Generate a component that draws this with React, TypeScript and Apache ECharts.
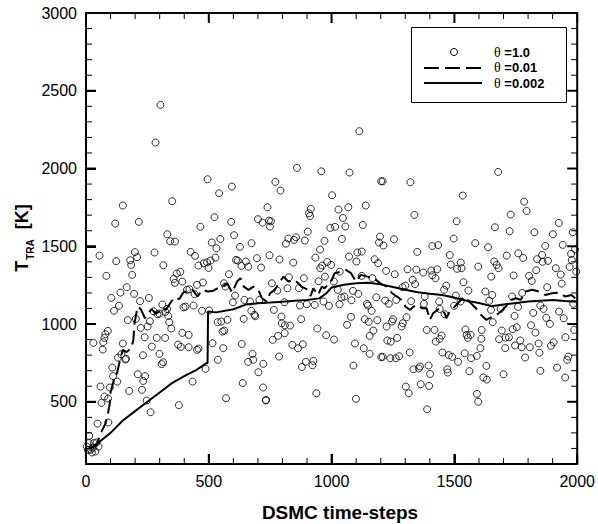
import React, { useEffect, useRef } from "react";
import * as echarts from "echarts";

const FONT = '"Liberation Sans", Arial, Helvetica, sans-serif';

const X_MIN = 0;
const X_MAX = 2000;
const Y_MIN = 100;
const Y_MAX = 3000;

const xMajorTicks = [0, 500, 1000, 1500, 2000];
const xMinorTicks = [100, 200, 300, 400, 600, 700, 800, 900, 1100, 1200, 1300, 1400, 1600, 1700, 1800, 1900];
const yMajorValues = [500, 1000, 1500, 2000, 2500, 3000];
const yMinorValues = [200, 300, 400, 600, 700, 800, 900, 1100, 1200, 1300, 1400, 1600, 1700, 1800, 1900, 2100, 2200, 2300, 2400, 2600, 2700, 2800, 2900];

const legendLabels = ["1.0", "0.01", "0.002"];

// theta = 1.0 (scatter)
const theta1Points: [number, number][] = [
  [303, 2409], [283, 2167], [351, 1790], [150, 1762], [119, 1646], [215, 1657], [331, 1577], [343, 1532], [362, 1530], [55, 1440],
  [123, 1404], [199, 1462], [208, 1430], [180, 1410], [184, 1380], [279, 1460], [315, 1378], [83, 1310], [188, 1316], [384, 1335],
  [370, 1325], [357, 1290], [362, 1265], [392, 1273], [166, 1237], [140, 1202], [196, 1194], [103, 1168], [256, 1168], [220, 1147],
  [134, 1117], [114, 1085], [311, 1125], [275, 1082], [291, 1063], [299, 1067], [330, 1097], [323, 1078], [397, 1108], [170, 1025],
  [203, 1033], [335, 1052], [339, 1012], [347, 971], [260, 1018], [251, 984], [223, 975], [89, 956], [79, 935], [75, 911],
  [70, 883], [30, 879], [68, 836], [392, 943], [239, 915], [288, 911], [322, 911], [150, 875], [268, 855], [375, 868],
  [386, 853], [130, 784], [144, 806], [232, 799], [299, 808], [160, 772], [163, 777], [314, 754], [308, 742], [107, 720],
  [110, 665], [211, 677], [241, 665], [233, 634], [127, 630], [176, 570], [228, 577], [59, 598], [75, 534], [63, 493],
  [97, 592], [90, 521], [247, 508], [378, 478], [263, 433], [47, 360], [91, 367], [13, 281], [3, 212], [19, 191],
  [32, 234], [43, 238], [24, 174], [11, 234], [51, 212], [8, 190], [28, 205], [38, 180],
  [495, 1931], [542, 1841], [594, 1884], [771, 1914], [792, 1858], [739, 1751], [523, 1687], [466, 1625], [591, 1657], [700, 1674],
  [719, 1652], [745, 1665], [753, 1661], [749, 1627], [603, 1571], [547, 1547], [512, 1524], [531, 1487], [674, 1520], [627, 1496],
  [426, 1464], [444, 1438], [527, 1427], [747, 1442], [458, 1376], [480, 1391], [493, 1397], [507, 1408], [499, 1361], [611, 1412],
  [618, 1408], [651, 1402], [696, 1423], [788, 1415], [633, 1374], [661, 1369], [713, 1363], [582, 1320], [411, 1220], [421, 1224],
  [452, 1252], [476, 1267], [442, 1192], [562, 1262], [568, 1241], [757, 1262], [779, 1215], [405, 1112], [438, 1119], [472, 1085],
  [501, 1087], [607, 1183], [598, 1140], [645, 1155], [668, 1145], [706, 1155], [673, 1085], [686, 1059], [689, 1050], [765, 1091],
  [796, 1048], [642, 1033], [536, 1012], [551, 1016], [576, 1027], [418, 930], [418, 851], [452, 834], [458, 842], [515, 877],
  [556, 952], [563, 958], [559, 845], [634, 872], [760, 898], [782, 924], [786, 791], [678, 808], [660, 757], [681, 770],
  [722, 744], [537, 770], [702, 690], [487, 712], [434, 630], [638, 620], [721, 592], [570, 523], [732, 508], [733, 512],
  [1113, 2240], [859, 2004], [958, 1982], [1073, 1974], [1202, 1918], [1002, 1828], [915, 1740], [908, 1712], [912, 1695], [1028, 1736],
  [1068, 1751], [1139, 1762], [1046, 1682], [995, 1618], [1014, 1625], [1056, 1627], [1127, 1637], [903, 1594], [824, 1549], [855, 1558],
  [814, 1517], [847, 1541], [891, 1537], [971, 1535], [1042, 1547], [1197, 1562], [1193, 1524], [953, 1479], [934, 1427], [1071, 1434],
  [1105, 1460], [1123, 1466], [1101, 1402], [844, 1395], [1175, 1417], [1189, 1391], [962, 1376], [982, 1399], [998, 1380], [954, 1359],
  [1033, 1337], [1123, 1310], [826, 1301], [947, 1275], [973, 1305], [1009, 1273], [887, 1295], [1166, 1295], [867, 1230], [820, 1230],
  [1025, 1220], [1087, 1213], [1109, 1194], [1052, 1177], [1040, 1170], [1081, 1153], [1182, 1172], [808, 1140], [871, 1119], [899, 1127],
  [931, 1123], [967, 1145], [989, 1117], [1032, 1127], [1144, 1130], [1148, 1119], [1163, 1085], [1135, 1031], [1151, 1014], [1186, 1025],
  [1170, 958], [1155, 924], [1079, 1046], [1063, 995], [876, 1031], [942, 971], [978, 928], [1010, 900], [810, 992], [831, 990],
  [809, 941], [840, 866], [863, 844], [883, 870], [1095, 875], [1131, 844], [1155, 808], [1202, 787], [879, 724], [895, 757],
  [922, 735], [926, 763], [1089, 733], [938, 555], [1099, 519], [797, 1005],
  [1208, 1918], [1321, 1912], [1534, 1826], [1337, 1702], [1509, 1661], [1211, 1505], [1254, 1545], [1497, 1550], [1410, 1502], [1434, 1507],
  [1585, 1520], [1349, 1464], [1481, 1444], [1526, 1395], [1485, 1382], [1511, 1355], [1529, 1359], [1597, 1369], [1222, 1342], [1257, 1320],
  [1309, 1352], [1345, 1350], [1373, 1331], [1406, 1344], [1430, 1352], [1410, 1314], [1423, 1295], [1330, 1284], [1340, 1256], [1467, 1247],
  [1537, 1269], [1300, 1247], [1289, 1237], [1458, 1220], [1557, 1215], [1506, 1183], [1218, 1151], [1233, 1130], [1263, 1155], [1324, 1147],
  [1379, 1177], [1376, 1130], [1438, 1145], [1499, 1117], [1525, 1145], [1440, 1097], [1460, 1063], [1305, 1044], [1250, 1031], [1246, 1016],
  [1224, 984], [1285, 984], [1290, 1005], [1227, 894], [1241, 887], [1267, 911], [1387, 962], [1419, 962], [1424, 887], [1440, 904],
  [1448, 926], [1545, 965], [1550, 930], [1566, 930], [1555, 912], [1208, 789], [1239, 780], [1261, 780], [1275, 793], [1318, 817],
  [1451, 817], [1477, 800], [1491, 789], [1515, 757], [1542, 812], [1568, 780], [1591, 795], [1333, 709], [1355, 714], [1360, 727],
  [1395, 733], [1401, 679], [1471, 709], [1473, 688], [1561, 697], [1363, 613], [1397, 602], [1302, 598], [1314, 555], [1389, 452],
  [1592, 551], [1597, 500],
  [1678, 1978], [1784, 1787], [1794, 1727], [1729, 1704], [1665, 1622], [1925, 1650], [1725, 1597], [1826, 1590], [1901, 1577], [1982, 1590],
  [1637, 1494], [1870, 1502], [1941, 1509], [1713, 1440], [1760, 1455], [1780, 1425], [1857, 1444], [1859, 1400], [1881, 1406], [1837, 1417],
  [1991, 1479], [1975, 1451], [1978, 1412], [1662, 1402], [1672, 1380], [1680, 1359], [1650, 1305], [1741, 1312], [1833, 1346], [1913, 1359],
  [1933, 1318], [1969, 1367], [1996, 1337], [1804, 1310], [1815, 1277], [1937, 1260], [1626, 1209], [1654, 1187], [1776, 1200], [1735, 1177],
  [1878, 1237], [1642, 1149], [1759, 1110], [1850, 1119], [1863, 1097], [1984, 1130], [1649, 1091], [1688, 1097], [1821, 1072], [1926, 1080],
  [1945, 1037], [1745, 1052], [1874, 1040], [1656, 1012], [1889, 1001], [1812, 992], [1693, 958], [1737, 967], [1754, 979], [1830, 945],
  [1611, 962], [1682, 902], [1708, 913], [1722, 915], [1707, 845], [1747, 862], [1768, 894], [1774, 851], [1807, 851], [1843, 875],
  [1893, 860], [1904, 883], [1952, 915], [1988, 962], [1788, 785], [1846, 815], [1606, 845], [1610, 905], [1630, 731], [1964, 791],
  [1959, 770], [1918, 720], [1951, 656], [1700, 677], [1850, 699], [1618, 656], [1632, 643]
];

// theta = 0.01 (dashed)
const theta001Points: [number, number][] = [
  [20, 200], [30, 215], [46, 234], [59, 298], [63, 308], [80, 362], [90, 430], [97, 491], [100, 560], [117, 662], [126, 684],
  [142, 791], [150, 834], [165, 820], [184, 844], [193, 898], [197, 1000], [207, 1087], [213, 1113], [225, 1090], [240, 1037],
  [251, 1069], [267, 1095], [284, 1069], [300, 1080], [314, 1102], [325, 1091], [347, 1144], [361, 1172], [380, 1160], [394, 1198],
  [402, 1209], [414, 1198], [434, 1220], [454, 1177], [474, 1220], [495, 1209], [515, 1212], [535, 1230], [555, 1241], [575, 1262],
  [595, 1202], [615, 1273], [629, 1295], [642, 1241], [662, 1220], [682, 1241], [702, 1220], [716, 1166], [736, 1145], [749, 1198],
  [769, 1220], [790, 1273], [804, 1305], [824, 1273], [850, 1284], [877, 1241], [904, 1220], [915, 1180], [925, 1230], [945, 1187],
  [960, 1240], [971, 1230], [998, 1273], [1012, 1327], [1038, 1337], [1058, 1348], [1079, 1327], [1099, 1273], [1119, 1316], [1146, 1305],
  [1172, 1295], [1199, 1260], [1226, 1241], [1246, 1198], [1266, 1177], [1293, 1145], [1300, 1112], [1320, 1091], [1333, 1112], [1353, 1123],
  [1367, 1102], [1387, 1102], [1400, 1027], [1414, 1070], [1440, 1102], [1460, 1070], [1467, 1037], [1481, 1080], [1501, 1112], [1521, 1145],
  [1541, 1177], [1554, 1155], [1574, 1123], [1588, 1102], [1601, 1070], [1629, 1027], [1656, 1048], [1682, 1070], [1703, 1102], [1716, 1123],
  [1729, 1155], [1750, 1166], [1770, 1155], [1790, 1209], [1817, 1220], [1843, 1209], [1870, 1187], [1897, 1198], [1924, 1202], [1951, 1177],
  [1977, 1187], [2000, 1155]
];

// theta = 0.002 (solid)
const theta0002Points: [number, number][] = [
  [20, 205], [40, 215], [60, 250], [100, 300], [150, 380], [200, 440], [250, 500], [300, 560], [350, 620], [400, 665],
  [450, 705], [490, 748], [495, 750], [497, 1080], [530, 1075], [600, 1095], [650, 1125], [700, 1133], [750, 1138], [800, 1144],
  [850, 1150], [900, 1155], [950, 1165], [980, 1200], [1000, 1235], [1050, 1252], [1100, 1262], [1150, 1265], [1200, 1255], [1250, 1238],
  [1300, 1220], [1350, 1205], [1400, 1195], [1450, 1187], [1500, 1170], [1550, 1150], [1600, 1135], [1650, 1115], [1700, 1125], [1750, 1135],
  [1800, 1145], [1850, 1150], [1900, 1155], [1950, 1148], [2000, 1144]
];

const plain = (v: number) => String(v);

function legendText(label: string) {
  return `{th|θ}{v| =${label}}`;
}

const legendRich = {
  th: { fontFamily: '"Liberation Serif", "DejaVu Serif", serif', fontSize: 14, fill: "#000", color: "#000" },
  v: { fontFamily: FONT, fontWeight: "bold", fontSize: 13, fill: "#000", color: "#000" },
};

function buildDecorations(): any[] {
  return [
    {
      type: "text",
      x: 340,
      y: 512,
      style: {
        text: "DSMC time-steps",
        fontFamily: FONT,
        fontWeight: "bold",
        fontSize: 19,
        fill: "#000",
        align: "center",
        verticalAlign: "middle",
      },
    },
    {
      type: "text",
      x: 24,
      y: 238,
      rotation: Math.PI / 2,
      style: {
        text: "{t|T}{s|TRA}{t|  [K]}",
        align: "center",
        verticalAlign: "middle",
        rich: {
          t: { fontFamily: FONT, fontWeight: "bold", fontSize: 18, fill: "#000", color: "#000", lineHeight: 22, verticalAlign: "top" },
          s: { fontFamily: FONT, fontWeight: "bold", fontSize: 10, fill: "#000", color: "#000", lineHeight: 12, verticalAlign: "bottom", padding: [0, 0, 0, 1] },
        },
        lineHeight: 28,
      },
    },
    {
      type: "rect",
      shape: { x: 411.5, y: 27.5, width: 155, height: 75 },
      style: { fill: "#fff", stroke: "#000", lineWidth: 1 },
      z: 10,
    },
    {
      type: "circle",
      shape: { cx: 454, cy: 52, r: 3.5 },
      style: { fill: "none", stroke: "#000", lineWidth: 1 },
      z: 11,
    },
    {
      type: "line",
      shape: { x1: 424, y1: 68, x2: 482, y2: 68 },
      style: { stroke: "#000", lineWidth: 2, lineDash: [15, 6] },
      z: 11,
    },
    {
      type: "line",
      shape: { x1: 424, y1: 83, x2: 482, y2: 83 },
      style: { stroke: "#000", lineWidth: 2 },
      z: 11,
    },
    ...legendLabels.map((lab, i) => ({
      type: "text",
      x: 494,
      y: 52 + i * 15.5,
      z: 11,
      style: {
        text: legendText(lab),
        align: "left",
        verticalAlign: "middle",
        rich: legendRich,
      },
    })),
  ];
}

export default function App() {
  const ref = useRef<HTMLDivElement>(null);

  useEffect(() => {
    if (!ref.current) return;
    const chart = echarts.init(ref.current, null, { renderer: "svg" });
    chart.setOption({
      animation: false,
      backgroundColor: "#fff",
      grid: { left: 86, top: 13, right: 15, bottom: 60, show: true, borderColor: "#000", borderWidth: 2, backgroundColor: "transparent" },
      xAxis: {
        type: "value",
        min: X_MIN,
        max: X_MAX,
        interval: 500,
        axisLine: { show: true, onZero: false, lineStyle: { color: "#000", width: 2 } },
        axisTick: { show: true, inside: true, length: 10, lineStyle: { color: "#000", width: 2 } },
        axisLabel: { color: "#000", fontFamily: FONT, fontSize: 16, margin: 9, formatter: plain },
        splitLine: { show: false },
      },
      yAxis: {
        type: "value",
        min: Y_MIN,
        max: Y_MAX,
        axisLine: { show: true, onZero: false, lineStyle: { color: "#000", width: 2 } },
        axisTick: { show: true, inside: true, length: 10, customValues: yMajorValues, lineStyle: { color: "#000", width: 2 } },
        axisLabel: { color: "#000", fontFamily: FONT, fontSize: 16, margin: 9, customValues: yMajorValues, formatter: plain },
        splitLine: { show: false },
      },
      series: [
        {
          name: "θ =1.0",
          type: "scatter",
          data: theta1Points,
          symbol: "circle",
          symbolSize: 7,
          itemStyle: { color: "rgba(0,0,0,0)", borderColor: "#000", borderWidth: 1 },
          silent: true,
        },
        {
          name: "θ =0.01",
          type: "line",
          data: theta001Points,
          showSymbol: false,
          symbol: "none",
          lineStyle: { color: "#000", width: 2, type: [14, 6] },
          silent: true,
        },
        {
          name: "θ =0.002",
          type: "line",
          data: theta0002Points,
          showSymbol: false,
          symbol: "none",
          lineStyle: { color: "#000", width: 2 },
          silent: true,
        },
      ],
    });

    // Minor ticks and the mirrored top/right ticks, positioned through the chart's own axis scales
    const els: any[] = buildDecorations();
    const finder = { xAxisIndex: 0, yAxisIndex: 0 };
    const addX = (v: number, len: number, lw: number) => {
      const b = chart.convertToPixel(finder, [v, Y_MIN]) as any;
      const t = chart.convertToPixel(finder, [v, Y_MAX]) as any;
      els.push({ type: "line", z: 100, shape: { x1: b[0], y1: b[1], x2: b[0], y2: b[1] - len }, style: { stroke: "#000", lineWidth: lw } });
      els.push({ type: "line", z: 100, shape: { x1: t[0], y1: t[1], x2: t[0], y2: t[1] + len }, style: { stroke: "#000", lineWidth: lw } });
    };
    const addY = (v: number, len: number, lw: number) => {
      const l = chart.convertToPixel(finder, [X_MIN, v]) as any;
      const r = chart.convertToPixel(finder, [X_MAX, v]) as any;
      els.push({ type: "line", z: 100, shape: { x1: l[0], y1: l[1], x2: l[0] + len, y2: l[1] }, style: { stroke: "#000", lineWidth: lw } });
      els.push({ type: "line", z: 100, shape: { x1: r[0], y1: r[1], x2: r[0] - len, y2: r[1] }, style: { stroke: "#000", lineWidth: lw } });
    };
    xMajorTicks.forEach((v) => addX(v, 10, 2));
    xMinorTicks.forEach((v) => addX(v, 6, 1));
    yMajorValues.forEach((v) => addY(v, 10, 2));
    yMinorValues.forEach((v) => addY(v, 6, 1));
    chart.setOption({ graphic: { elements: els } });

    return () => chart.dispose();
  }, []);

  return <div ref={ref} style={{ position: "absolute", left: 0, top: 0, width: 598, height: 524 }} />;
}
